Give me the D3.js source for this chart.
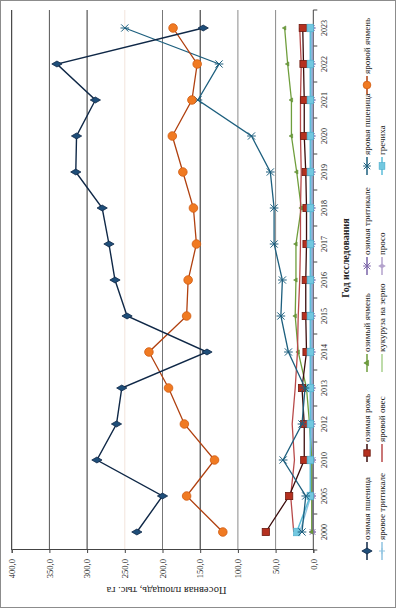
<!DOCTYPE html>
<html><head><meta charset="utf-8">
<script src="https://cdn.jsdelivr.net/npm/d3@7"></script>
<style>body{margin:0;background:#fff}svg{display:block}</style>
</head><body>
<script>
const years = ["2000","2005","2010","2012","2013","2014","2015","2016","2017","2018","2019","2020","2021","2022","2023"];
const yTicks = [0,50,100,150,200,250,300,350,400];
const yTickLabels = ["0,0","50,0","100,0","150,0","200,0","250,0","300,0","350,0","400,0"];
const seriesNames = ["озимая пшеница","озимая рожь","озимый ячмень","озимая тритикале","яровая пшеница","яровой ячмень","яровое тритикале","яровой овес","кукуруза на зерно","просо","гречиха"];
const ozPsh   = [234,200,287,261,254,141,247,263,271,280,315,314,289,340,146];
const ozRozh  = [63,32,12,12,15,9,10,10,9,9,10,12,12,13,14];
const ozYach  = [2,2,2,5,9,20,24,23,23,16,22,29,29,34,38];
const ozTrit  = [1,1,1,2,2,2,2,2,2,2,2,2,2,2,2];
const yarPsh  = [15,10,40,15,11,33,43,41,52,52,57,82,153,125,250];
const yarYach = [120,168,131,171,192,218,168,166,155,159,173,187,161,154,186];
const yarTrit = [18,3,2,2,2,2,2,2,2,2,2,2,2,2,2];
const yarOves = [26,30,25,28,24,21,20,18,17,17,16,17,17,16,18];
const kukur   = [2,2,2,2,3,3,3,3,3,3,3,3,3,3,3];
const proso   = [1,1,1,1,1,1,1,1,1,1,1,1,1,1,1];
const grech   = [22,4,4,4,4,4,4,4,4,4,4,4,4,4,4];
const yTitle = "Посевная площадь, тыс. га";
const xTitle = "Год исследования";

const seriesValues = [ozPsh,ozRozh,ozYach,ozTrit,yarPsh,yarYach,yarTrit,yarOves,kukur,proso,grech];
const styles = [
  {line:"#0f2847", fill:"#1f4e79", stroke:"#0f2847", m:"diamond", w:1.4},
  {line:"#3a0c0c", fill:"#b5301f", stroke:"#6e1a10", m:"square", w:1.3},
  {line:"#6f9e3c", fill:"#6f9e3c", stroke:"#5a8a30", m:"tri", w:1.3},
  {line:"#7a64a8", fill:"#7a64a8", stroke:"#7a64a8", m:"star", w:1.3},
  {line:"#1d5f7e", fill:"none", stroke:"#1d5f7e", m:"star", w:1.3},
  {line:"#b0400f", fill:"#f07a22", stroke:"#d05a10", m:"circle", w:1.3},
  {line:"#8fc3e0", fill:"none", stroke:"#8fc3e0", m:"plus", w:1.3},
  {line:"#b84a4a", fill:"none", stroke:"none", m:null, w:1.3},
  {line:"#a9d18e", fill:"none", stroke:"none", m:null, w:1.3},
  {line:"#b3a2cc", fill:"#b3a2cc", stroke:"#b3a2cc", m:"smalldiamond", w:1.3},
  {line:"#5cbcd8", fill:"#72c8e0", stroke:"#4aaccb", m:"square2", w:1.5}
];
const plotMarkerScale = [0.8,1,0.45,0.6,1,1,0.8,1,1,0.8,1];
const gridColors = ["#555","#8a8a8a","#8a8a8a","#222","#777","#f2e4dc","#333","#555","#222"];

const svg = d3.select("body").append("svg").attr("width",396).attr("height",608);
svg.append("rect").attr("x",0.5).attr("y",0.5).attr("width",395).attr("height",607)
  .attr("fill","#fff").attr("stroke","#8c8c8c");
const g = svg.append("g").attr("transform","translate(0,608) rotate(-90)");
const font = "'Liberation Serif','Times New Roman',serif";

const x = d3.scaleBand().domain(years).range([58,598]);
const y = d3.scaleLinear().domain([0,400]).range([313.3,11.7]);
const cx = d => x(d) + x.bandwidth()/2;

// grid
yTicks.forEach((v,i)=>{
  if(v===0) return;
  g.append("line").attr("x1",58).attr("x2",598).attr("y1",y(v)).attr("y2",y(v))
    .attr("stroke",gridColors[i]).attr("stroke-width",1);
});
// y axis
const yAxis = d3.axisLeft(y).tickValues(yTicks).tickSize(3).tickFormat((d,i)=>yTickLabels[i]);
const ya = g.append("g").attr("transform","translate(58,0)").call(yAxis);
ya.select(".domain").attr("stroke","#444");
ya.selectAll(".tick line").attr("stroke","#444");
ya.selectAll("text").attr("font-family",font).attr("font-size",8.5).attr("fill","#222").attr("x",-9);
// x axis
g.append("line").attr("x1",58).attr("x2",598).attr("y1",y(0)).attr("y2",y(0)).attr("stroke","#444");
const bounds = years.map(d=>x(d)).concat([x.range()[1]]);
g.selectAll(".xt").data(bounds).enter().append("line")
  .attr("x1",d=>d).attr("x2",d=>d).attr("y1",y(0)).attr("y2",y(0)+4).attr("stroke","#444");
g.selectAll(".xl").data(years).enter().append("text")
  .attr("x",cx).attr("y",y(0)+14).attr("text-anchor","middle")
  .attr("font-family",font).attr("font-size",8).attr("fill","#222").text(d=>d);

// titles
g.append("text").attr("transform",`translate(21,${(y(0)+y(400))/2+4}) rotate(-90)`)
  .attr("text-anchor","middle").attr("font-family",font).attr("font-size",10.5).attr("fill","#222").text(yTitle);
g.append("text").attr("x",350).attr("y",349).attr("text-anchor","middle")
  .attr("font-family",font).attr("font-size",10).attr("font-weight","bold").attr("fill","#222").text(xTitle);

function drawMarker(sel, m, s, px, py, scale){
  const k = scale||1;
  if(!m) return;
  if(m==="diamond"){
    sel.append("path").attr("d",d3.symbol(d3.symbolDiamond,38*k)()).attr("transform",`translate(${px},${py})`)
      .attr("fill",s.fill).attr("stroke",s.stroke).attr("stroke-width",0.8);
  } else if(m==="smalldiamond"){
    sel.append("path").attr("d",d3.symbol(d3.symbolDiamond,16*k)()).attr("transform",`translate(${px},${py})`)
      .attr("fill",s.fill).attr("stroke",s.stroke).attr("stroke-width",0.6);
  } else if(m==="square"){
    const a=3.6*Math.sqrt(k);
    sel.append("rect").attr("x",px-a).attr("y",py-a).attr("width",2*a).attr("height",2*a)
      .attr("fill",s.fill).attr("stroke",s.stroke).attr("stroke-width",0.8);
  } else if(m==="square2"){
    const a=3.8*Math.sqrt(k);
    sel.append("rect").attr("x",px-a).attr("y",py-a*0.85).attr("width",2*a).attr("height",1.7*a)
      .attr("fill",s.fill).attr("stroke",s.stroke).attr("stroke-width",0.6);
  } else if(m==="circle"){
    sel.append("circle").attr("cx",px).attr("cy",py).attr("r",4.3*Math.sqrt(k))
      .attr("fill",s.fill).attr("stroke",s.stroke).attr("stroke-width",0.8);
  } else if(m==="tri"){
    sel.append("path").attr("d",d3.symbol(d3.symbolTriangle,16*k)()).attr("transform",`translate(${px},${py})`)
      .attr("fill",s.fill).attr("stroke",s.stroke).attr("stroke-width",0.6);
  } else if(m==="star"){
    const a=3.6*Math.sqrt(k);
    sel.append("path").attr("d",`M${px-a},${py-a}L${px+a},${py+a}M${px-a},${py+a}L${px+a},${py-a}M${px},${py-a*1.2}L${px},${py+a*1.2}`)
      .attr("stroke",s.stroke).attr("stroke-width",1).attr("fill","none");
  } else if(m==="plus"){
    const a=3.4*Math.sqrt(k);
    sel.append("path").attr("d",`M${px-a},${py}L${px+a},${py}M${px},${py-a}L${px},${py+a}`)
      .attr("stroke",s.stroke).attr("stroke-width",1).attr("fill","none");
  }
}

// series
const line = d3.line().x((d,i)=>cx(years[i])).y(d=>y(d));
const drawOrder = [8,9,3,6,2,7,1,10,4,5,0];
drawOrder.forEach(si=>{
  const s = styles[si], vals = seriesValues[si];
  g.append("path").attr("d",line(vals)).attr("fill","none").attr("stroke",s.line).attr("stroke-width",s.w);
  const mg = g.append("g");
  vals.forEach((v,i)=>drawMarker(mg, s.m, s, cx(years[i]), y(v), plotMarkerScale[si]));
});

// legend
const legendCols = [57,155,245,342,442,523];
const legendRows = [367,382];
seriesNames.forEach((name,i)=>{
  const s = styles[i];
  const col = i<6 ? i : i-6, row = i<6 ? 0 : 1;
  const lx = legendCols[col], ly = legendRows[row];
  const lg = g.append("g");
  lg.append("line").attr("x1",lx-9).attr("x2",lx+9).attr("y1",ly).attr("y2",ly)
    .attr("stroke",s.line).attr("stroke-width",1.5);
  drawMarker(lg, s.m, s, lx, ly, 0.8);
  lg.append("text").attr("x",lx+11).attr("y",ly+3).attr("font-family",font).attr("font-size",9)
    .attr("fill","#222").text(name);
});
</script>
</body></html>
